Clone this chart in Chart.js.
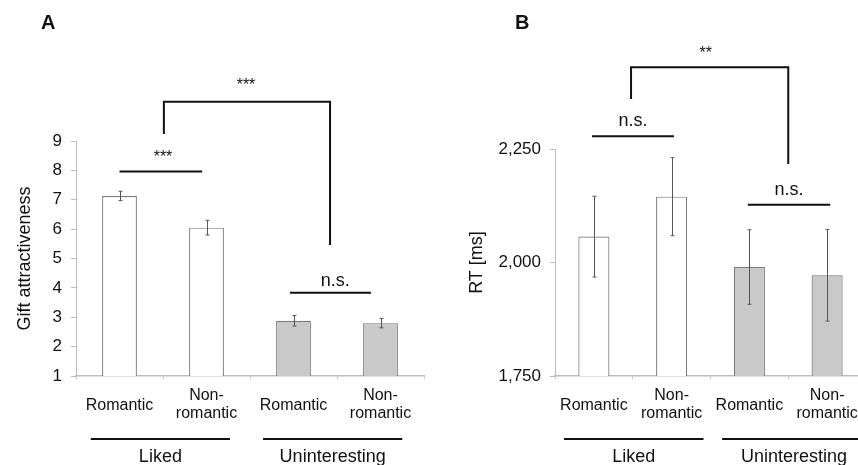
<!DOCTYPE html>
<html>
<head>
<meta charset="utf-8">
<script src="https://cdn.jsdelivr.net/npm/chart.js@4.4.0/dist/chart.umd.min.js"></script>
<style>
  html, body { margin: 0; padding: 0; background: #fff; overflow: hidden; }
  body { width: 858px; height: 465px; position: relative; font-family: "Liberation Sans", Arial, sans-serif; }
  .panel { position: absolute; top: 0; height: 465px; }
  #panelA { left: 0; width: 430px; }
  #panelB { left: 430px; width: 460px; }
  .letter { position: absolute; top: 12px; font-weight: bold; font-size: 20px; line-height: 20px; color: #111; }
</style>
</head>
<body>
<div class="panel" id="panelA"><canvas id="chartA"></canvas></div>
<div class="panel" id="panelB"><canvas id="chartB"></canvas></div>
<div class="letter" style="left:41px">A</div>
<div class="letter" style="left:515px">B</div>
<script>
const FONT = '"Liberation Sans", Arial, sans-serif';

// data
const categories = ['Romantic', 'Non-romantic', 'Romantic', 'Non-romantic'];
const categoryLines = [['Romantic'], ['Non-', 'romantic'], ['Romantic'], ['Non-', 'romantic']];
const groupLabels = ['Liked', 'Uninteresting'];
const barFills = ['#ffffff', '#ffffff', '#c9c9c9', '#c9c9c9'];

const attractMeans = [7.13, 6.05, 2.88, 2.80];
const attractErrors = [0.16, 0.25, 0.18, 0.16];
const attractTicks = [1, 2, 3, 4, 5, 6, 7, 8, 9];

const rtMeans = [2057, 2145, 1990, 1972];
const rtErrors = [89, 86, 82, 101];
const rtTicks = [1750, 2000, 2250];

// significance marks (x in category units, y in data units)
const sigA = [
  { from: 0.51, to: 2.42, y: 10.34, leftEnd: 9.24, rightEnd: 5.46, text: '***', textAt: 1.454, dy: -12, size: 16 },
  { from: 0.0, to: 0.95, y: 7.96, text: '***', textAt: 0.5, dy: -10, size: 16 },
  { from: 1.96, to: 2.89, y: 3.83, text: 'n.s.', textAt: 2.48, dy: -7, size: 18 },
];
const sigB = [
  { from: 0.478, to: 2.5, y: 2430, leftEnd: 2360, rightEnd: 2217, text: '**', textAt: 1.44, dy: -9, size: 16 },
  { from: -0.024, to: 1.03, y: 2278, text: 'n.s.', textAt: 0.504, dy: -10, size: 18 },
  { from: 1.98, to: 3.04, y: 2127, text: 'n.s.', textAt: 2.51, dy: -10, size: 18 },
];
const groupSpansA = [[-0.33, 1.27], [1.65, 3.25]];
const groupSpansB = [[-0.384, 1.41], [1.65, 3.5]];

function decorPlugin(means, errors, sigs, groupSpans) {
  return {
    id: 'decor',
    afterDatasetsDraw(chart) {
      const { ctx, scales: { y } } = chart;
      const meta = chart.getDatasetMeta(0);
      ctx.save();
      ctx.strokeStyle = '#555';
      ctx.lineWidth = 1;
      meta.data.forEach((bar, i) => {
        const hi = y.getPixelForValue(means[i] + errors[i]);
        const lo = y.getPixelForValue(means[i] - errors[i]);
        const x = Math.round(bar.x) + 0.5;
        ctx.beginPath();
        ctx.moveTo(x, hi); ctx.lineTo(x, lo);
        ctx.moveTo(x - 2, hi); ctx.lineTo(x + 2, hi);
        ctx.moveTo(x - 2, lo); ctx.lineTo(x + 2, lo);
        ctx.stroke();
      });
      ctx.restore();
    },
    afterDraw(chart) {
      const { ctx, chartArea, scales: { x, y } } = chart;
      const base = chartArea.bottom;
      ctx.save();
      ctx.fillStyle = '#111';
      ctx.strokeStyle = '#111';
      ctx.lineWidth = 2;
      ctx.textAlign = 'center';
      ctx.textBaseline = 'alphabetic';

      sigs.forEach(a => {
        const x1 = x.getPixelForValue(a.from);
        const x2 = x.getPixelForValue(a.to);
        const yt = y.getPixelForValue(a.y);
        ctx.beginPath();
        if (a.leftEnd !== undefined) {
          ctx.moveTo(x1, y.getPixelForValue(a.leftEnd));
          ctx.lineTo(x1, yt);
          ctx.lineTo(x2, yt);
          ctx.lineTo(x2, y.getPixelForValue(a.rightEnd));
        } else {
          ctx.moveTo(x1, yt);
          ctx.lineTo(x2, yt);
        }
        ctx.stroke();
        ctx.font = a.size + 'px ' + FONT;
        ctx.fillText(a.text, x.getPixelForValue(a.textAt), yt + a.dy);
      });

      // category labels
      ctx.font = '16px ' + FONT;
      categoryLines.forEach((lines, i) => {
        const cx = x.getPixelForValue(i);
        if (lines.length === 1) {
          ctx.fillText(lines[0], cx, base + 34);
        } else {
          ctx.fillText(lines[0], cx, base + 23.5);
          ctx.fillText(lines[1], cx, base + 41.5);
        }
      });

      // group lines and labels
      ctx.font = '18px ' + FONT;
      groupSpans.forEach((span, g) => {
        const x1 = x.getPixelForValue(span[0]);
        const x2 = x.getPixelForValue(span[1]);
        ctx.beginPath();
        ctx.moveTo(x1, base + 63);
        ctx.lineTo(x2, base + 63);
        ctx.stroke();
        ctx.fillText(groupLabels[g], (x1 + x2) / 2, base + 86);
      });
      ctx.restore();
    }
  };
}

function makeChart(id, cfg) {
  return new Chart(document.getElementById(id), {
    type: 'bar',
    data: {
      labels: categories,
      datasets: [{
        data: cfg.means,
        backgroundColor: barFills,
        borderColor: '#7a7a7a',
        borderWidth: 1.2,
        barPercentage: 0.4,
        categoryPercentage: 1,
      }]
    },
    options: {
      responsive: true,
      maintainAspectRatio: false,
      animation: false,
      layout: { padding: cfg.padding },
      plugins: { legend: { display: false }, tooltip: { enabled: false } },
      scales: {
        x: {
          offset: true,
          grid: { offset: true, drawOnChartArea: false, tickLength: 3, color: '#c4c4c4' },
          border: { color: '#bdbdbd', width: 1.5 },
          ticks: { display: false },
          afterFit: s => { s.height = 89; }
        },
        y: {
          min: cfg.ticks[0],
          max: cfg.ticks[cfg.ticks.length - 1],
          afterBuildTicks: s => { s.ticks = cfg.ticks.map(v => ({ value: v })); },
          grid: { drawOnChartArea: false, tickLength: 5, color: '#bdbdbd' },
          border: { color: '#bdbdbd', width: 1 },
          ticks: {
            padding: 9,
            color: '#111',
            font: { family: FONT, size: 17 },
            callback: v => v.toLocaleString('en-US')
          },
          title: {
            display: true,
            text: cfg.title,
            color: '#111',
            font: { family: FONT, size: 18 },
            padding: { top: 4, bottom: 0 }
          },
          afterFit: s => { s.width = cfg.axisWidth; }
        }
      }
    },
    plugins: [decorPlugin(cfg.means, cfg.errors, cfg.sigs, cfg.groups)]
  });
}

makeChart('chartA', {
  means: attractMeans, errors: attractErrors, ticks: attractTicks,
  title: 'Gift attractiveness', sigs: sigA, groups: groupSpansA,
  padding: { left: 10, top: 141, right: 6, bottom: 0 }, axisWidth: 66
});

makeChart('chartB', {
  means: rtMeans, errors: rtErrors, ticks: rtTicks,
  title: 'RT [ms]', sigs: sigB, groups: groupSpansB,
  padding: { left: 32, top: 149, right: 24, bottom: 0 }, axisWidth: 93
});
</script>
</body>
</html>
